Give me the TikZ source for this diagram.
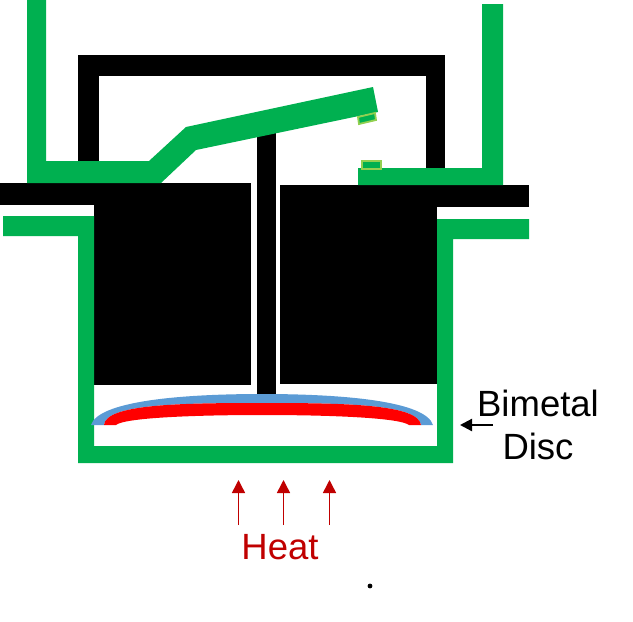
\documentclass[tikz,border=0pt]{standalone}
\usepackage{fontspec}
\setmainfont{Liberation Sans}
\usetikzlibrary{arrows.meta}
\definecolor{partgreen}{HTML}{00B050}
\definecolor{contactgreen}{HTML}{92D050}
\definecolor{discblue}{HTML}{5B9BD5}
\definecolor{heatred}{HTML}{C00000}
\tikzset{
  heatarrow/.style={draw=heatred,line width=1.5pt,-{Stealth[length=13pt,width=13pt,inset=0pt]}},
  labeltext/.style={font=\fontsize{36.5}{40}\selectfont,inner sep=0pt},
  contact/.style={fill=partgreen,draw=contactgreen,line width=1.8pt}
}

\begin{document}
\begin{tikzpicture}[x=1pt,y=-1pt]
\useasboundingbox (0,0) rectangle (633,622);
\begin{scope}
% frame and bars
\fill[black](78,55) rectangle (445,76);
\fill[black](78,55) rectangle (99,170);
\fill[black](426,55) rectangle (445,175);
\fill[black](0,183) rectangle (251,205);
\fill[black](280,185) rectangle (529,207);
\fill[black](94,183) rectangle (251,385);
\fill[black](280,185) rectangle (437,384);
\fill[black](257,125) rectangle (276,394);
\end{scope}

\begin{scope}
% moving arm and right terminal
\fill[partgreen](27,0) -- (46,0) -- (46,161) -- (149,161) -- (186,127) -- (373,87) -- (378,112) -- (196,150) -- (161,183) -- (27,183) -- cycle;
\fill[partgreen](358,168) -- (482,168) -- (482,4) -- (503,4) -- (503,185) -- (358,185) -- cycle;
\draw[contact](358,117) -- (375,113) -- (376,120) -- (359,124) -- cycle;
\draw[contact](362,161) rectangle (381,169);
% can
\fill[partgreen](3,216) -- (94,216) -- (94,446) -- (437,446) -- (437,219) -- (529,219) -- (529,239) -- (453,239) -- (453,463) -- (78,463) -- (78,236) -- (3,236) -- cycle;
\end{scope}

\begin{scope}
% disc
\fill[discblue](91,425) .. controls (98,402) and (175,394) .. (262,394) .. controls (349,394) and (426,402) .. (433,425) -- (421,425) .. controls (418,404) and (344,403) .. (262,403) .. controls (180,403) and (106,404) .. (104,425) -- cycle;
\fill[red](104,425) .. controls (106,404) and (180,403) .. (262,403) .. controls (344,403) and (418,404) .. (421,425) -- (409,425) .. controls (400,418) and (335,415) .. (262,415) .. controls (190,415) and (124,418) .. (116,425) -- cycle;
\end{scope}

\draw(538,403) node[labeltext] (bimetal) {Bimetal};
\draw(538,446) node[labeltext] (disc) {Disc};
\coordinate (arrowstart) at (493,425);
\coordinate (arrowend) at (460,425);
\draw[line width=2.2pt,-{Stealth[length=12pt,width=12pt,inset=0pt]}] (arrowstart) -- (arrowend);

\draw(280,547) node[labeltext,text=heatred] (heat) {Heat};
\foreach \n/\x in {a/238.5,b/283.5,c/329.5}{
  \coordinate (low\n) at (\x,525);
  \coordinate (high\n) at (\x,480);
  \draw[heatarrow] (low\n) -- (high\n);
}
\fill[black](370,586) circle (2.4);
\end{tikzpicture}
\end{document}
